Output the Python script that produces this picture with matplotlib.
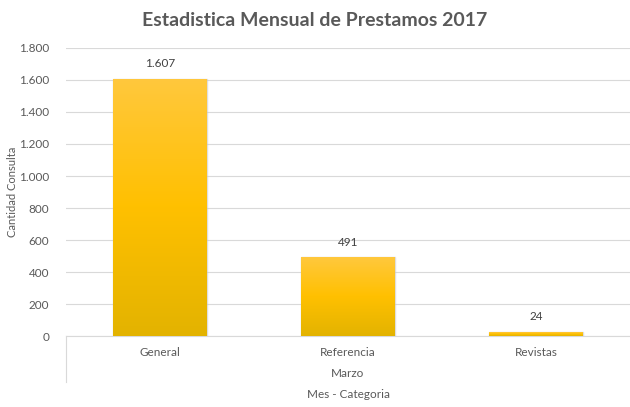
import matplotlib.pyplot as plt
import numpy as np
from matplotlib.colors import LinearSegmentedColormap
from matplotlib.lines import Line2D
from matplotlib.ticker import FuncFormatter

CATEGORIAS = ["General", "Referencia", "Revistas"]
VALORES = [1607, 491, 24]
MES = "Marzo"
TITULO = "Estadistica Mensual de Prestamos 2017"
Y_TICKS = list(range(0, 1801, 200))

GRIS_TEXTO = "#595959"
GRIS_LINEA = "#d9d9d9"

plt.rcParams["font.family"] = ["Lato", "DejaVu Sans"]

degradado = LinearSegmentedColormap.from_list(
    "oro", ["#e3b300", "#ffc000", "#ffc83d"]
)


def miles(v, _pos):
    return f"{int(v):,}".replace(",", ".")


fig = plt.figure(figsize=(6.30, 4.07), dpi=100)
ax = fig.add_axes([0.1048, 0.1744, 0.8952, 0.7077])

x = np.arange(len(CATEGORIAS))
barras = ax.bar(x, VALORES, width=0.5, color="none", edgecolor="none", zorder=3)

grad = np.linspace(0, 1, 256).reshape(-1, 1)
for b in barras:
    x0, y0 = b.get_x(), b.get_y()
    w, h = b.get_width(), b.get_height()
    img = ax.imshow(
        grad, cmap=degradado, aspect="auto", origin="lower",
        extent=(x0, x0 + w, y0, y0 + h), zorder=3,
    )
    img.set_clip_path(b)
    # sombra suave
    ax.bar(x0 + w / 2, h, width=w, bottom=y0, color="none",
           edgecolor="#c8c8c8", linewidth=1.0, alpha=0.6, zorder=2)

for xi, v in zip(x, VALORES):
    ax.annotate(miles(v, None), (xi, v), xytext=(0, 7), textcoords="offset points",
                ha="center", va="bottom", fontsize=8.5, color="#404040")

ax.set_xlim(-0.5, len(CATEGORIAS) - 0.5)
ax.set_ylim(0, 1800)
ax.set_yticks(Y_TICKS)
ax.yaxis.set_major_formatter(FuncFormatter(miles))
ax.set_xticks(x)
ax.set_xticklabels(CATEGORIAS)
ax.tick_params(axis="both", length=0, labelsize=8.5, colors=GRIS_TEXTO)
ax.tick_params(axis="y", pad=12)
ax.tick_params(axis="x", pad=8)

ax.grid(axis="y", color=GRIS_LINEA, linewidth=0.8, zorder=0)
for s in ["top", "right", "left"]:
    ax.spines[s].set_visible(False)
ax.spines["bottom"].set_color(GRIS_LINEA)
ax.spines["bottom"].set_linewidth(0.8)
ax.set_axisbelow(True)

# separador del eje de categorias
ax.add_line(Line2D([0, 0], [0, -0.16], transform=ax.transAxes, color=GRIS_LINEA,
                   linewidth=0.8, clip_on=False))
ax.text(0.5, -0.13, MES, transform=ax.transAxes, ha="center", va="center",
        fontsize=8.5, color=GRIS_TEXTO)

ax.set_xlabel("Mes - Categoria", fontsize=8.5, color=GRIS_TEXTO, labelpad=22)
ax.set_ylabel("Cantidad Consulta", fontsize=8, color=GRIS_TEXTO)
ax.yaxis.set_label_coords(-0.086, 0.5)

fig.suptitle(TITULO, x=0.5, y=0.97, fontsize=14, fontweight="bold", color=GRIS_TEXTO,
             va="top")

fig.savefig("out.png", dpi=100)
